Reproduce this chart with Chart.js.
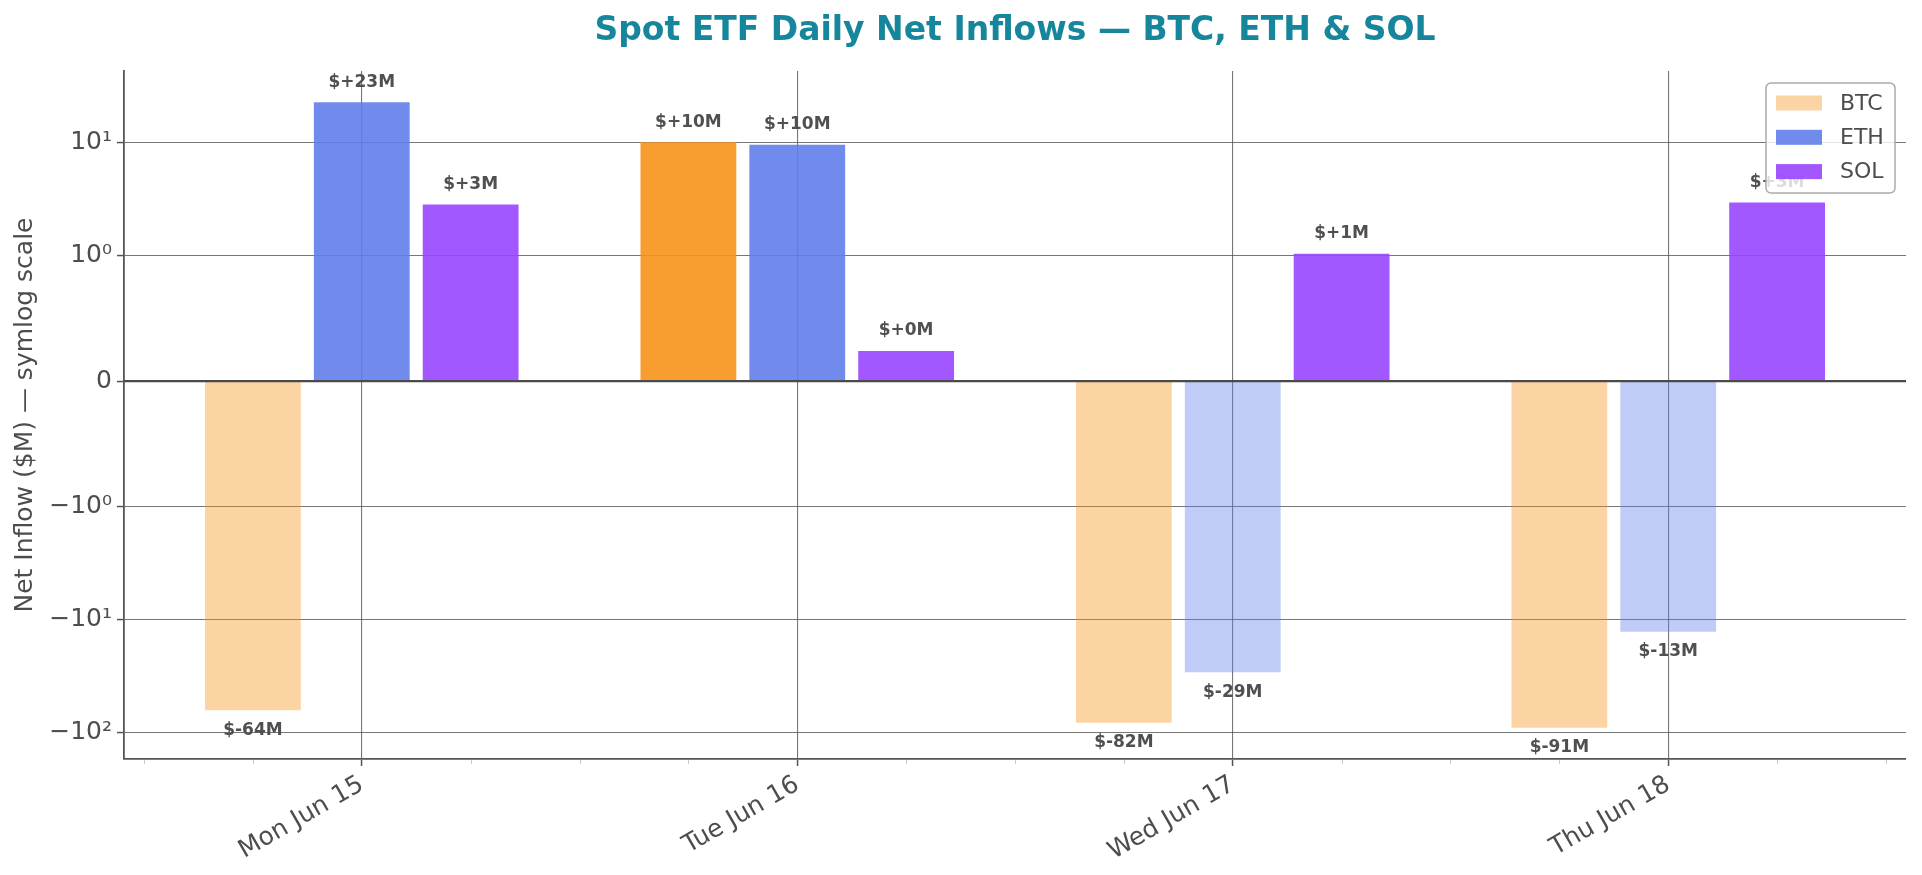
<!DOCTYPE html>
<html><head><meta charset="utf-8">
<script src="https://cdn.jsdelivr.net/npm/chart.js@4.4.1/dist/chart.umd.min.js"></script>
<style>html,body{margin:0;padding:0;background:#fff;}#wrap{width:1922px;height:875px;position:relative;}</style>
</head><body><div id="wrap"><canvas id="c"></canvas></div>
<script>
// ---------------- data ----------------
const categories = ['Mon Jun 15', 'Tue Jun 16', 'Wed Jun 17', 'Thu Jun 18'];
const seriesNames = ['BTC', 'ETH', 'SOL'];
const btcValues = [-63.7, 10.1, -82.0, -90.8];
const ethValues = [22.8, 9.6, -29.3, -12.8];
const solValues = [2.83, 0.24, 1.04, 2.95];
const yTickValues = [-100, -10, -1, 0, 1, 10];
const yTickLabels = ['\u221210\u00B2', '\u221210\u00B9', '\u221210\u2070', '0', '10\u2070', '10\u00B9'];
const titleText = 'Spot ETF Daily Net Inflows \u2014 BTC, ETH & SOL';
const yAxisTitle = 'Net Inflow ($M) \u2014 symlog scale';

// ---------------- style ----------------
const seriesRGB = ['247,147,26', '98,126,234', '153,69,255'];
const FONT = 'DejaVu Sans';
const TEXT = '#4d4d4d';
Chart.defaults.font.family = FONT;

// symlog transform (matplotlib: linthresh=1, base=10, linscale=1)
const LINTHRESH = 1, BASE = 10, LINSCALE = 1;
const LSA = LINSCALE / (1 - 1 / BASE);
function symT(v) { const a = Math.abs(v); if (a <= LINTHRESH) return v * LSA; return Math.sign(v) * LINTHRESH * (LSA + Math.log(a / LINTHRESH) / Math.log(BASE)); }
function symInv(t) { const a = Math.abs(t); if (a <= LINTHRESH * LSA) return t / LSA; return Math.sign(t) * LINTHRESH * Math.pow(BASE, a / LINTHRESH - LSA); }

class SymlogScale extends Chart.LinearScale {
  determineDataLimits() {
    super.determineDataLimits();
    const t0 = symT(this.min), t1 = symT(this.max), r = t1 - t0;
    this.min = symInv(t0 - 0.05 * r);
    this.max = symInv(t1 + 0.05 * r);
  }
  buildTicks() { return yTickValues.map(v => ({ value: v })); }
  getPixelForValue(v) {
    const t0 = symT(this.min), t1 = symT(this.max);
    return this.getPixelForDecimal((symT(v) - t0) / (t1 - t0));
  }
  getValueForPixel(p) {
    const t0 = symT(this.min), t1 = symT(this.max);
    return symInv(t0 + this.getDecimalForPixel(p) * (t1 - t0));
  }
}
SymlogScale.id = 'symlog';
SymlogScale.defaults = {};
Chart.register(SymlogScale);

const seriesValues = [btcValues, ethValues, solValues];
const groupOffset = 0.25, barHalf = 0.11;
const xLo = -groupOffset - barHalf, xHi = categories.length - 1 + groupOffset + barHalf;
const xPad = 0.05 * (xHi - xLo);

const fmt = v => '$' + (v >= 0 ? '+' : '-') + Math.abs(Math.round(v)) + 'M';

const decor = {
  id: 'decor',
  afterDatasetsDraw(chart) {
    const ctx = chart.ctx, ca = chart.chartArea, y = chart.scales.y;
    ctx.save();
    // zero line
    const y0 = y.getPixelForValue(0);
    ctx.strokeStyle = '#4a4a4a'; ctx.lineWidth = 2.2;
    ctx.beginPath(); ctx.moveTo(ca.left, y0); ctx.lineTo(ca.right, y0); ctx.stroke();
    // value labels
    ctx.font = 'bold 17px "' + FONT + '"';
    ctx.fillStyle = '#505050'; ctx.textAlign = 'center'; ctx.textBaseline = 'middle';
    chart.data.datasets.forEach((ds, di) => {
      const meta = chart.getDatasetMeta(di);
      meta.data.forEach((bar, i) => {
        const v = seriesValues[di][i];
        const ly = v >= 0 ? bar.y - 20 : bar.y + 20;
        ctx.fillText(fmt(v), bar.x, ly);
      });
    });
    ctx.restore();
  },
  afterDraw(chart) {
    const ctx = chart.ctx, ca = chart.chartArea, x = chart.scales.x;
    ctx.save();
    // minor x ticks every 6h
    ctx.strokeStyle = '#c4c8d6'; ctx.lineWidth = 1;
    for (let k = Math.ceil(x.min * 4); k <= Math.floor(x.max * 4); k++) {
      if (k % 4 === 0) continue;
      const px = Math.round(x.getPixelForValue(k / 4)) + 0.5;
      ctx.beginPath(); ctx.moveTo(px, ca.bottom + 1); ctx.lineTo(px, ca.bottom + 5); ctx.stroke();
    }
    // legend
    const lw = 129, lh = 110;
    const lx = ca.right - 11 - lw, ly = ca.top + 12;
    ctx.beginPath();
    ctx.roundRect(lx, ly, lw, lh, 5);
    ctx.fillStyle = 'rgba(255,255,255,0.8)'; ctx.fill();
    ctx.strokeStyle = '#aaaaaa'; ctx.lineWidth = 1.5; ctx.stroke();
    ctx.font = '22px "' + FONT + '"'; ctx.textAlign = 'left'; ctx.textBaseline = 'middle';
    chart.data.datasets.forEach((ds, di) => {
      const cy = ly + 20 + di * 34.3;
      ctx.fillStyle = ds.backgroundColor[0];
      ctx.fillRect(lx + 10, cy - 7.5, 46, 15);
      ctx.fillStyle = TEXT;
      ctx.fillText(ds.label, lx + 74, cy + 1);
    });
    // title
    ctx.font = 'bold 33px "' + FONT + '"';
    ctx.fillStyle = '#16869c'; ctx.textAlign = 'center'; ctx.textBaseline = 'middle';
    ctx.fillText(titleText, (ca.left + ca.right) / 2, 31);
    ctx.restore();
  }
};

new Chart(document.getElementById('c'), {
  type: 'bar',
  data: {
    datasets: seriesNames.map((name, s) => ({
      label: name,
      data: seriesValues[s].map((v, i) => ({ x: i, y: v })),
      backgroundColor: seriesValues[s].map(v => 'rgba(' + seriesRGB[s] + ',' + (v >= 0 ? 0.9 : 0.4) + ')'),
      borderWidth: 0,
      categoryPercentage: 0.75,
      barPercentage: 0.88
    }))
  },
  options: {
    responsive: true, maintainAspectRatio: false, animation: false, devicePixelRatio: 1,
    layout: { padding: { left: 0, top: 71, right: 16, bottom: 0 } },
    plugins: { legend: { display: false }, tooltip: { enabled: false }, title: { display: false } },
    scales: {
      x: {
        type: 'linear', offset: false,
        min: xLo - xPad, max: xHi + xPad,
        afterBuildTicks(scale) { scale.ticks = categories.map((_, i) => ({ value: i })); },
        afterFit(scale) { scale.height = 116; },
        grid: { offset: false, color: 'rgba(85,85,85,0.8)', lineWidth: 1.1, drawTicks: true, tickLength: 7, tickColor: '#555', tickWidth: 1.5 },
        border: { display: true, color: '#555', width: 1.8 },
        ticks: {
          autoSkip: false, maxRotation: 30, minRotation: 30, padding: 4,
          font: { size: 25 }, color: TEXT,
          callback: v => categories[v]
        }
      },
      y: {
        type: 'symlog', position: 'left',
        afterFit(scale) { scale.width = 124; },
        grid: { color: 'rgba(85,85,85,0.8)', lineWidth: 1.1, drawTicks: true, tickLength: 7, tickColor: '#555', tickWidth: 1.5 },
        border: { display: true, color: '#555', width: 1.8 },
        ticks: { padding: 5, font: { size: 25 }, color: TEXT, callback: v => yTickLabels[yTickValues.indexOf(v)] },
        title: { display: true, text: yAxisTitle, font: { size: 25 }, color: TEXT, padding: { top: 10, bottom: 0 } }
      }
    }
  },
  plugins: [decor]
});
</script></body></html>
